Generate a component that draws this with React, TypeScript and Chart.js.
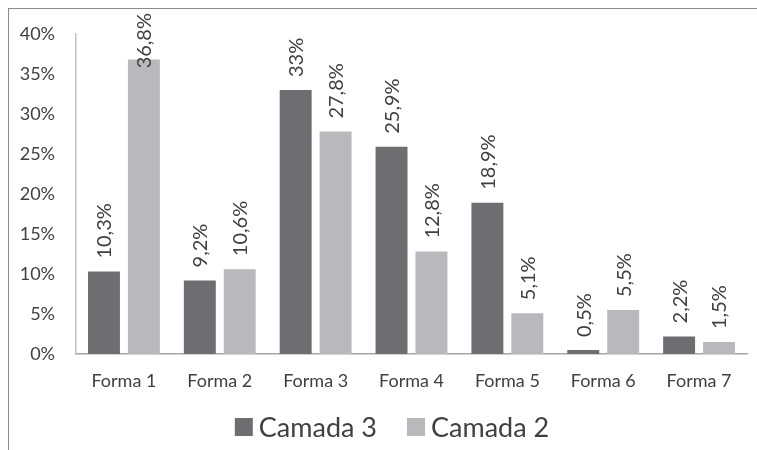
import React, { useEffect, useRef } from "react";
import { Chart, registerables } from "chart.js";

Chart.register(...registerables);

const categories = ["Forma 1", "Forma 2", "Forma 3", "Forma 4", "Forma 5", "Forma 6", "Forma 7"];
const camada3 = [10.3, 9.2, 33, 25.9, 18.9, 0.5, 2.2];
const camada2 = [36.8, 10.6, 27.8, 12.8, 5.1, 5.5, 1.5];
const seriesNames = ["Camada 3", "Camada 2"];
const seriesColors = ["#6e6e72", "#b9b9bd"];
const yTicksMax = 40;
const yStep = 5;

const FONT = "Lato, 'Open Sans', sans-serif";
const TEXT = "#404040";

const labelPlugin = {
  id: "barLabels",
  afterDatasetsDraw(chart: any) {
    const ctx = chart.ctx;
    ctx.save();
    ctx.fillStyle = TEXT;
    ctx.font = `20px ${FONT}`;
    chart.data.datasets.forEach((ds: any, di: number) => {
      const meta = chart.getDatasetMeta(di);
      meta.data.forEach((el: any, i: number) => {
        const v = ds.data[i];
        const txt = String(v).replace(".", ",") + "%";
        const w = ctx.measureText(txt).width;
        let start = el.y - 13;
        if (start - w < 4) start = 4 + w;
        ctx.save();
        ctx.translate(el.x + 1, start);
        ctx.rotate(-Math.PI / 2);
        ctx.textAlign = "left";
        ctx.textBaseline = "middle";
        ctx.fillText(txt, 0, 0);
        ctx.restore();
      });
    });
    ctx.restore();
  },
};

const legendPlugin = {
  id: "customLegend",
  afterDraw(chart: any) {
    const ctx = chart.ctx;
    ctx.save();
    ctx.font = `27px ${FONT}`;
    const box = 18;
    const gapBoxText = 6;
    const gapItems = 30;
    const widths = chart.data.datasets.map((d: any) => ctx.measureText(d.label).width);
    const total = widths.reduce((a: number, w: number) => a + box + gapBoxText + w, 0) + gapItems * (widths.length - 1);
    const cy = 418;
    let x = 383 - total / 2;
    chart.data.datasets.forEach((d: any, i: number) => {
      ctx.fillStyle = d.backgroundColor;
      ctx.fillRect(x, cy - box / 2, box, box);
      x += box + gapBoxText;
      ctx.fillStyle = TEXT;
      ctx.textAlign = "left";
      ctx.textBaseline = "middle";
      ctx.fillText(d.label, x, cy + 1);
      x += widths[i] + gapItems;
    });
    ctx.restore();
  },
};

export default function App() {
  const ref = useRef<HTMLCanvasElement>(null);
  useEffect(() => {
    if (!ref.current) return;
    const chart = new Chart(ref.current, {
      type: "bar",
      data: {
        labels: categories,
        datasets: [
          { label: seriesNames[0], data: camada3, backgroundColor: seriesColors[0], barPercentage: 0.8, categoryPercentage: 0.833 },
          { label: seriesNames[1], data: camada2, backgroundColor: seriesColors[1], barPercentage: 0.8, categoryPercentage: 0.833 },
        ],
      },
      options: {
        animation: false,
        responsive: false,
        layout: { padding: { top: 25, right: 10, left: 0, bottom: 46 } },
        plugins: {
          tooltip: { enabled: false },
          legend: { display: false },
        },
        scales: {
          x: {
            grid: { display: false, drawTicks: false },
            border: { display: true, color: "#a6a6a6", width: 1.5 },
            ticks: { color: TEXT, font: { family: FONT, size: 18 }, padding: 16 },
            afterFit: (s: any) => { s.height = 50; s.paddingLeft = 0; s.paddingRight = 0; },
          },
          y: {
            min: 0,
            max: yTicksMax,
            grid: { display: false, drawTicks: false },
            border: { display: true, color: "#c4c4c4", width: 1.5 },
            ticks: {
              stepSize: yStep,
              color: TEXT,
              font: { family: FONT, size: 18 },
              padding: 21,
              callback: (v: any) => v + "%",
            },
            afterFit: (s: any) => { s.width = 67; s.paddingTop = 0; s.paddingBottom = 0; },
          },
        },
      },
      plugins: [labelPlugin, legendPlugin],
    });
    return () => chart.destroy();
  }, []);
  return (
    <div
      style={{
        position: "fixed",
        left: 8,
        top: 8,
        width: 749,
        height: 442,
        borderTop: "1px solid #8c8c8c",
        borderLeft: "1px solid #8c8c8c",
        background: "#fff",
        boxSizing: "border-box",
      }}
    >
      <canvas ref={ref} width={748} height={441} style={{ display: "block" }} />
    </div>
  );
}
